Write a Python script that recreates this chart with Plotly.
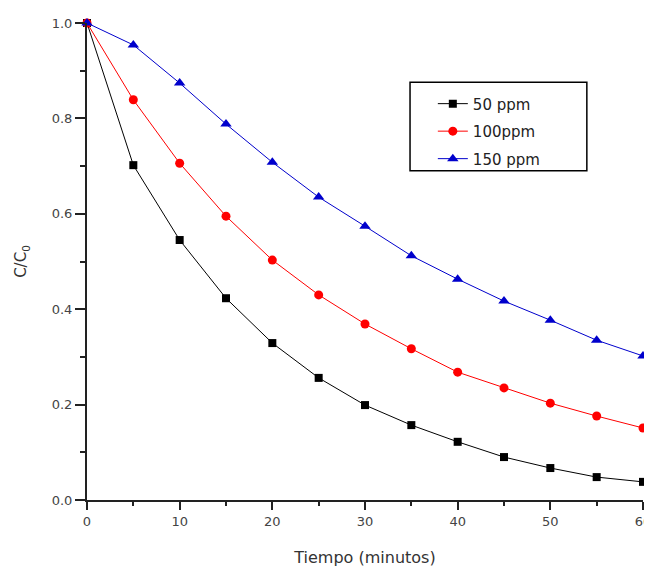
import plotly.graph_objects as go

# Data
tiempo = [0, 5, 10, 15, 20, 25, 30, 35, 40, 45, 50, 55, 60]
c_50ppm = [1.0, 0.702, 0.545, 0.423, 0.329, 0.256, 0.199, 0.157, 0.122, 0.090, 0.067, 0.048, 0.038]
c_100ppm = [1.0, 0.839, 0.706, 0.595, 0.503, 0.430, 0.369, 0.317, 0.268, 0.235, 0.203, 0.176, 0.151]
c_150ppm = [1.0, 0.954, 0.874, 0.788, 0.708, 0.635, 0.574, 0.512, 0.463, 0.417, 0.377, 0.335, 0.302]

series = [
    ("50 ppm", c_50ppm, "black", "square", 8),
    ("100ppm", c_100ppm, "red", "circle", 9),
    ("150 ppm", c_150ppm, "#0000cc", "triangle-up", 10),
]

fig = go.Figure()

for name, vals, color, symbol, size in series:
    fig.add_trace(
        go.Scatter(
            x=tiempo,
            y=vals,
            name=name,
            legendgroup=name,
            mode="lines+markers",
            line=dict(color=color, width=1),
            marker=dict(color=color, symbol=symbol, size=size),
            cliponaxis=False,
        )
    )

# page body adds 8px around the figure
fig.update_layout(
    width=644,
    height=561,
    plot_bgcolor="white",
    paper_bgcolor="white",
    margin=dict(l=79, r=9, t=15, b=69),
    font=dict(family="DejaVu Sans, sans-serif", size=13, color="#444"),
    showlegend=True,
    legend=dict(
        x=0.622,
        y=0.865,
        xanchor="left",
        yanchor="top",
        borderwidth=0,
        bgcolor="rgba(0,0,0,0)",
        font=dict(size=15, color="#222"),
        tracegroupgap=5,
    ),
)

# legend frame
fig.add_shape(
    type="rect",
    xref="paper",
    yref="paper",
    x0=0.581,
    x1=0.899,
    y0=0.690,
    y1=0.876,
    line=dict(color="black", width=1.5),
    fillcolor="rgba(0,0,0,0)",
    layer="below",
)

fig.update_xaxes(
    range=[0, 60],
    tickvals=[0, 10, 20, 30, 40, 50, 60],
    automargin=False,
    ticklabeloverflow="allow",
    showline=True,
    linecolor="#222",
    linewidth=2,
    ticks="outside",
    ticklen=8,
    tickwidth=1.5,
    tickcolor="#222",
    minor=dict(ticks="outside", ticklen=4, tickcolor="#222", tickvals=[5, 15, 25, 35, 45, 55]),
    showgrid=False,
    zeroline=False,
    title=dict(text="Tiempo (minutos)", font=dict(size=16, color="#333"), standoff=24),
)

fig.update_yaxes(
    range=[0, 1.0],
    tickvals=[0, 0.2, 0.4, 0.6, 0.8, 1.0],
    tickformat=".1f",
    showline=True,
    linecolor="#222",
    linewidth=2,
    ticks="outside",
    ticklen=10,
    tickwidth=1.5,
    tickcolor="#222",
    minor=dict(ticks="outside", ticklen=5, tickcolor="#222", tickvals=[0.1, 0.3, 0.5, 0.7, 0.9]),
    showgrid=False,
    zeroline=False,
    title=dict(text="C/C<sub>0</sub>", font=dict(size=15, color="#333"), standoff=21),
)

fig.write_html("out.html")
